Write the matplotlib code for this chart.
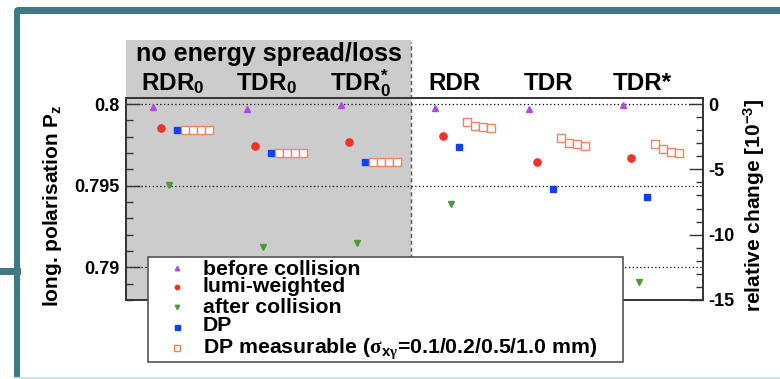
import numpy as np
import matplotlib
matplotlib.use("Agg")
import matplotlib.pyplot as plt
from matplotlib.patches import Rectangle, FancyBboxPatch
from matplotlib.ticker import MultipleLocator
import matplotlib.transforms as mtransforms

plt.rcParams['font.family'] = ['Liberation Sans', 'DejaVu Sans']
plt.rcParams['font.weight'] = 'bold'
plt.rcParams['axes.unicode_minus'] = False
plt.rcParams['mathtext.fontset'] = 'custom'
plt.rcParams['mathtext.rm'] = 'Liberation Sans:bold'
plt.rcParams['mathtext.it'] = 'Liberation Sans:bold'
plt.rcParams['mathtext.bf'] = 'Liberation Sans:bold'
plt.rcParams['mathtext.sf'] = 'Liberation Serif'

# beam parameter sets
categories = [r'RDR$_\mathbf{0}$', r'TDR$_\mathbf{0}$', r'TDR$^\mathbf{*}_\mathbf{0}$',
              'RDR', 'TDR', 'TDR*']
# longitudinal polarisation for each parameter set
before = [0.7998, 0.79969, 0.79994, 0.79974, 0.79967, 0.79994]
lumi = [0.79851, 0.79744, 0.79769, 0.79806, 0.79646, 0.79671]
after = [0.79503, 0.79125, 0.79149, 0.79387, 0.78885, 0.78910]
dp = [0.79842, 0.79698, 0.79646, 0.79738, 0.79477, 0.79431]
# DP measurable for sigma_xgamma = 0.1 / 0.2 / 0.5 / 1.0 mm
dp_meas = [
    [0.79842, 0.79842, 0.79842, 0.79842],
    [0.79698, 0.79698, 0.79698, 0.79698],
    [0.79646, 0.79646, 0.79646, 0.79646],
    [0.79887, 0.79867, 0.79861, 0.79851],
    [0.79790, 0.79763, 0.79753, 0.79740],
    [0.79755, 0.79724, 0.79707, 0.79698],
]
p0 = 0.8

c_before = '#b048e8'
c_lumi = '#ee3324'
c_after = '#4c9a3c'
c_dp = '#1040f0'
c_meas = '#f2845a'
teal = '#3f7a84'

fig = plt.figure(figsize=(7.8, 3.79), dpi=100)
ax = fig.add_axes([126 / 780, 1 - 300 / 379, 577 / 780, 201.7 / 379])

x = np.arange(len(categories))
step = 0.085
ax.plot(x, before, ls='none', marker='^', ms=4.8, color=c_before, zorder=3)
ax.plot(x + step, lumi, ls='none', marker='o', ms=5.2, color=c_lumi, zorder=3)
ax.plot(x + 2 * step, after, ls='none', marker='v', ms=4.8, color=c_after, zorder=3)
ax.plot(x + 3 * step, dp, ls='none', marker='s', ms=5, color=c_dp, zorder=3)
meas = np.array(dp_meas)
for k in range(meas.shape[1]):
    ax.plot(x + (4 + k) * step, meas[:, k], ls='none', marker='s', ms=5.4,
            mfc='white', mec=c_meas, mew=1.0, zorder=3)

ax.set_xlim(-0.284, 5.854)
ylo, yhi = 0.788, 0.80035
ax.set_ylim(ylo, yhi)
ax.set_xticks([])
ax.set_yticks([0.79, 0.795, 0.8], ['0.79', '0.795', '0.8'])
ax.yaxis.set_minor_locator(MultipleLocator(0.001))
ax.tick_params(axis='y', which='major', direction='in', length=10, width=1,
               labelsize=13, pad=5, color='#333')
ax.tick_params(axis='y', which='minor', direction='in', length=5, width=1, color='#333')
ax.grid(axis='y', which='major', ls=(0, (1, 2)), color='black', lw=0.9)
for s in ax.spines.values():
    s.set_color('#333')
    s.set_linewidth(1.2)

# shaded block for the sets without energy spread/loss
x_div = 2.748
trans = mtransforms.blended_transform_factory(ax.transData, ax.transAxes)
ax.add_patch(Rectangle((-0.284, 0), x_div + 0.284, 1.289, transform=trans,
                       fc='#cccccc', ec='none', clip_on=False, zorder=0))
ax.plot([x_div, x_div], [0, 1.28], transform=trans, color='#555', lw=1,
        ls=(0, (3, 2)), clip_on=False, zorder=2)
ax.text((x_div - 0.284) / 2, 1.185, 'no energy spread/loss', transform=trans,
        ha='center', va='baseline', fontsize=18)
for xi, lab in zip(x, categories):
    ax.text(xi + 0.21, 1.041, lab, transform=trans, ha='center', va='baseline',
            fontsize=17.5)

# relative change axis
ax2 = ax.twinx()
ax2.set_ylim((ylo / p0 - 1) * 1e3, (yhi / p0 - 1) * 1e3)
ax2.set_yticks([-15, -10, -5, 0], ['-15', '-10', '-5', '0'])
ax2.yaxis.set_minor_locator(MultipleLocator(1))
ax2.tick_params(axis='y', which='major', direction='in', length=10, width=1,
                labelsize=13, pad=4, color='#333')
ax2.tick_params(axis='y', which='minor', direction='in', length=5, width=1, color='#333')
for s in ax2.spines.values():
    s.set_color('#333')
    s.set_linewidth(1.2)

fig.text(53 / 780, 1 - 206 / 379, r'long. polarisation P$_\mathbf{z}$', rotation=90,
         ha='center', va='center', fontsize=15)
fig.text(754 / 780, 1 - 205 / 379, r'relative change [10$^\mathbf{-3}$]', rotation=90,
         ha='center', va='center', fontsize=15)

# overlay in pixel units: slide frame and legend
ov = fig.add_axes([0, 0, 1, 1], zorder=5)
ov.set_xlim(0, 780)
ov.set_ylim(379, 0)
ov.axis('off')
ov.patch.set_visible(False)

ov.add_patch(FancyBboxPatch((14, 7), 800, 7, boxstyle='round,pad=0,rounding_size=5',
                            fc=teal, ec='none'))
ov.add_patch(FancyBboxPatch((14, 7), 6, 400, boxstyle='round,pad=0,rounding_size=5',
                            fc=teal, ec='none'))
ov.add_patch(Rectangle((0, 268), 21, 7, fc=teal, ec='none'))
ov.plot([14, 780], [378, 378], color='#cfe3e5', lw=1.5)

ov.add_patch(Rectangle((148, 257), 475, 105, fc='white', ec='#555', lw=1.2))
legend_rows = [
    ('before collision', dict(marker='^', ms=3.2, color=c_before), 275, 268),
    ('lumi-weighted', dict(marker='o', ms=3.2, color=c_lumi), 292, 287),
    ('after collision', dict(marker='v', ms=3.2, color=c_after), 313, 307),
    ('DP', dict(marker='s', ms=3.6, color=c_dp), 331, 327),
    (r'DP measurable ($\mathsf{\sigma}_{\mathbf{x}\mathsf{\gamma}}$=0.1/0.2/0.5/1.0 mm)',
     dict(marker='s', ms=5, mfc='white', mec=c_meas, mew=1.0), 353, 348),
]
for label, style, yb, ym in legend_rows:
    ov.plot([177], [ym], ls='none', **style)
    ov.text(203, yb, label, ha='left', va='baseline', fontsize=15.3)

fig.savefig('out.png', dpi=100)
